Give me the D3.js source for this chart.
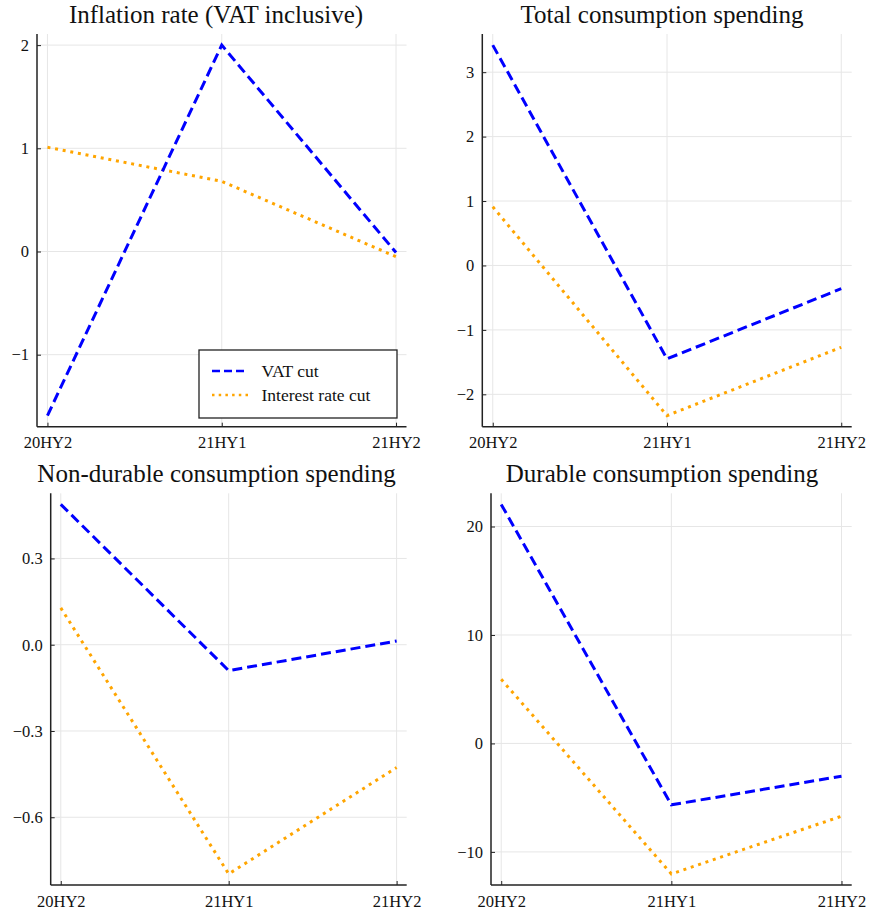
<!DOCTYPE html>
<html>
<head>
<meta charset="utf-8">
<script src="https://cdn.jsdelivr.net/npm/d3@7"></script>
<style>
  body { margin: 0; background: #fff; }
</style>
</head>
<body>
<svg id="chart" width="869" height="911" font-family="'Liberation Serif', 'DejaVu Serif', 'Times New Roman', serif"></svg>
<script>
// periods on the x axis
var periods = ["20HY2", "21HY1", "21HY2"];

// series
var inflationVat      = [-1.59, 2.00, -0.01];
var inflationInterest = [1.01, 0.68, -0.05];
var totalVat          = [3.42, -1.45, -0.36];
var totalInterest     = [0.91, -2.33, -1.27];
var nondurVat         = [0.488, -0.09, 0.013];
var nondurInterest    = [0.128, -0.797, -0.427];
var durVat            = [22.04, -5.66, -3.02];
var durInterest       = [5.91, -12.03, -6.71];

var titles = ["Inflation rate (VAT inclusive)", "Total consumption spending",
              "Non-durable consumption spending", "Durable consumption spending"];
var yTicks = [[-1, 0, 1, 2], [-2, -1, 0, 1, 2, 3], [-0.6, -0.3, 0.0, 0.3], [-10, 0, 10, 20]];
var legendNames = ["VAT cut", "Interest rate cut"];

var panels = [
  {title: titles[0], vat: inflationVat, ir: inflationInterest, ticks: yTicks[0], fmt: d3.format("d"),
   box: {l: 37, r: 406.5, t: 34, b: 426.7}, cx: 216, ty: 23, legend: true},
  {title: titles[1], vat: totalVat, ir: totalInterest, ticks: yTicks[1], fmt: d3.format("d"),
   box: {l: 482.3, r: 851.7, t: 34, b: 426.7}, cx: 662, ty: 23},
  {title: titles[2], vat: nondurVat, ir: nondurInterest, ticks: yTicks[2], fmt: d3.format(".1f"),
   box: {l: 50.7, r: 406.7, t: 493.3, b: 885}, cx: 216.5, ty: 482},
  {title: titles[3], vat: durVat, ir: durInterest, ticks: yTicks[3], fmt: d3.format("d"),
   box: {l: 491, r: 851.7, t: 493.3, b: 885}, cx: 662, ty: 482}
];

var svg = d3.select("svg");

function minus(s) { return s.replace("-", "\u2212"); }

function draw(p) {
  var g = svg.append("g");
  var b = p.box;

  // Plots.jl style 3% padding
  var x = d3.scaleLinear().domain([0.94, 3.06]).range([b.l, b.r]);
  var ext = d3.extent(p.vat.concat(p.ir));
  var pad = (ext[1] - ext[0]) * 0.03;
  var y = d3.scaleLinear().domain([ext[0] - pad, ext[1] + pad]).range([b.b, b.t]);

  // grid
  g.selectAll(".gx").data(periods).enter().append("line")
      .attr("x1", function(d, i) { return x(i + 1); })
      .attr("x2", function(d, i) { return x(i + 1); })
      .attr("y1", b.t).attr("y2", b.b)
      .attr("stroke", "#e6e6e6").attr("stroke-width", 1);
  g.selectAll(".gy").data(p.ticks).enter().append("line")
      .attr("y1", function(d) { return y(d); })
      .attr("y2", function(d) { return y(d); })
      .attr("x1", b.l).attr("x2", b.r)
      .attr("stroke", "#e6e6e6").attr("stroke-width", 1);

  // axes
  var xAxis = d3.axisBottom(x).tickValues([1, 2, 3])
      .tickFormat(function(d) { return periods[d - 1]; })
      .tickSizeInner(-4).tickSizeOuter(0).tickPadding(10);
  var gx = g.append("g").attr("transform", "translate(0," + b.b + ")").call(xAxis)
      .attr("font-family", null).attr("font-size", null);
  gx.select(".domain").attr("stroke", "#222").attr("stroke-width", 1.5)
      .attr("d", "M" + b.l + ",0H" + b.r);
  gx.selectAll(".tick line").attr("stroke", "#222");
  gx.selectAll(".tick text").attr("font-size", 16.5).attr("fill", "#111");

  var yAxis = d3.axisLeft(y).tickValues(p.ticks)
      .tickFormat(function(d) { return minus(p.fmt(d)); })
      .tickSizeInner(-4).tickSizeOuter(0).tickPadding(8);
  var gy = g.append("g").attr("transform", "translate(" + b.l + ",0)").call(yAxis)
      .attr("font-family", null).attr("font-size", null);
  gy.select(".domain").attr("stroke", "#222").attr("stroke-width", 1.5)
      .attr("d", "M0," + b.t + "V" + b.b);
  gy.selectAll(".tick line").attr("stroke", "#222");
  gy.selectAll(".tick text").attr("font-size", 16.5).attr("fill", "#111");

  var line = d3.line()
      .x(function(d, i) { return x(i + 1); })
      .y(function(d) { return y(d); });

  g.append("path").datum(p.ir).attr("d", line)
      .attr("fill", "none").attr("stroke", "#ffa500").attr("stroke-width", 3)
      .attr("stroke-dasharray", "3,4.75");
  g.append("path").datum(p.vat).attr("d", line)
      .attr("fill", "none").attr("stroke", "#0000ff").attr("stroke-width", 3)
      .attr("stroke-dasharray", "10,5");

  g.append("text")
      .attr("x", p.cx).attr("y", p.ty)
      .attr("text-anchor", "middle")
      .attr("font-size", 25).attr("fill", "#111")
      .text(p.title);

  if (p.legend) {
    var lg = g.append("g");
    lg.append("rect").attr("x", 199).attr("y", 350).attr("width", 198).attr("height", 68)
        .attr("fill", "#fff").attr("stroke", "#222").attr("stroke-width", 1.3);
    var styles = [{c: "#0000ff", dash: "8,4"}, {c: "#ffa500", dash: "2.5,4.2"}];
    legendNames.forEach(function(name, i) {
      var yy = 371 + i * 24;
      lg.append("line").attr("x1", 212).attr("x2", 248).attr("y1", yy).attr("y2", yy)
          .attr("stroke", styles[i].c).attr("stroke-width", 2.5)
          .attr("stroke-dasharray", styles[i].dash);
      lg.append("text").attr("x", 261.5).attr("y", yy + 5.5)
          .attr("font-size", 17.5).attr("fill", "#111").text(name);
    });
  }
}

panels.forEach(draw);
</script>
</body>
</html>
